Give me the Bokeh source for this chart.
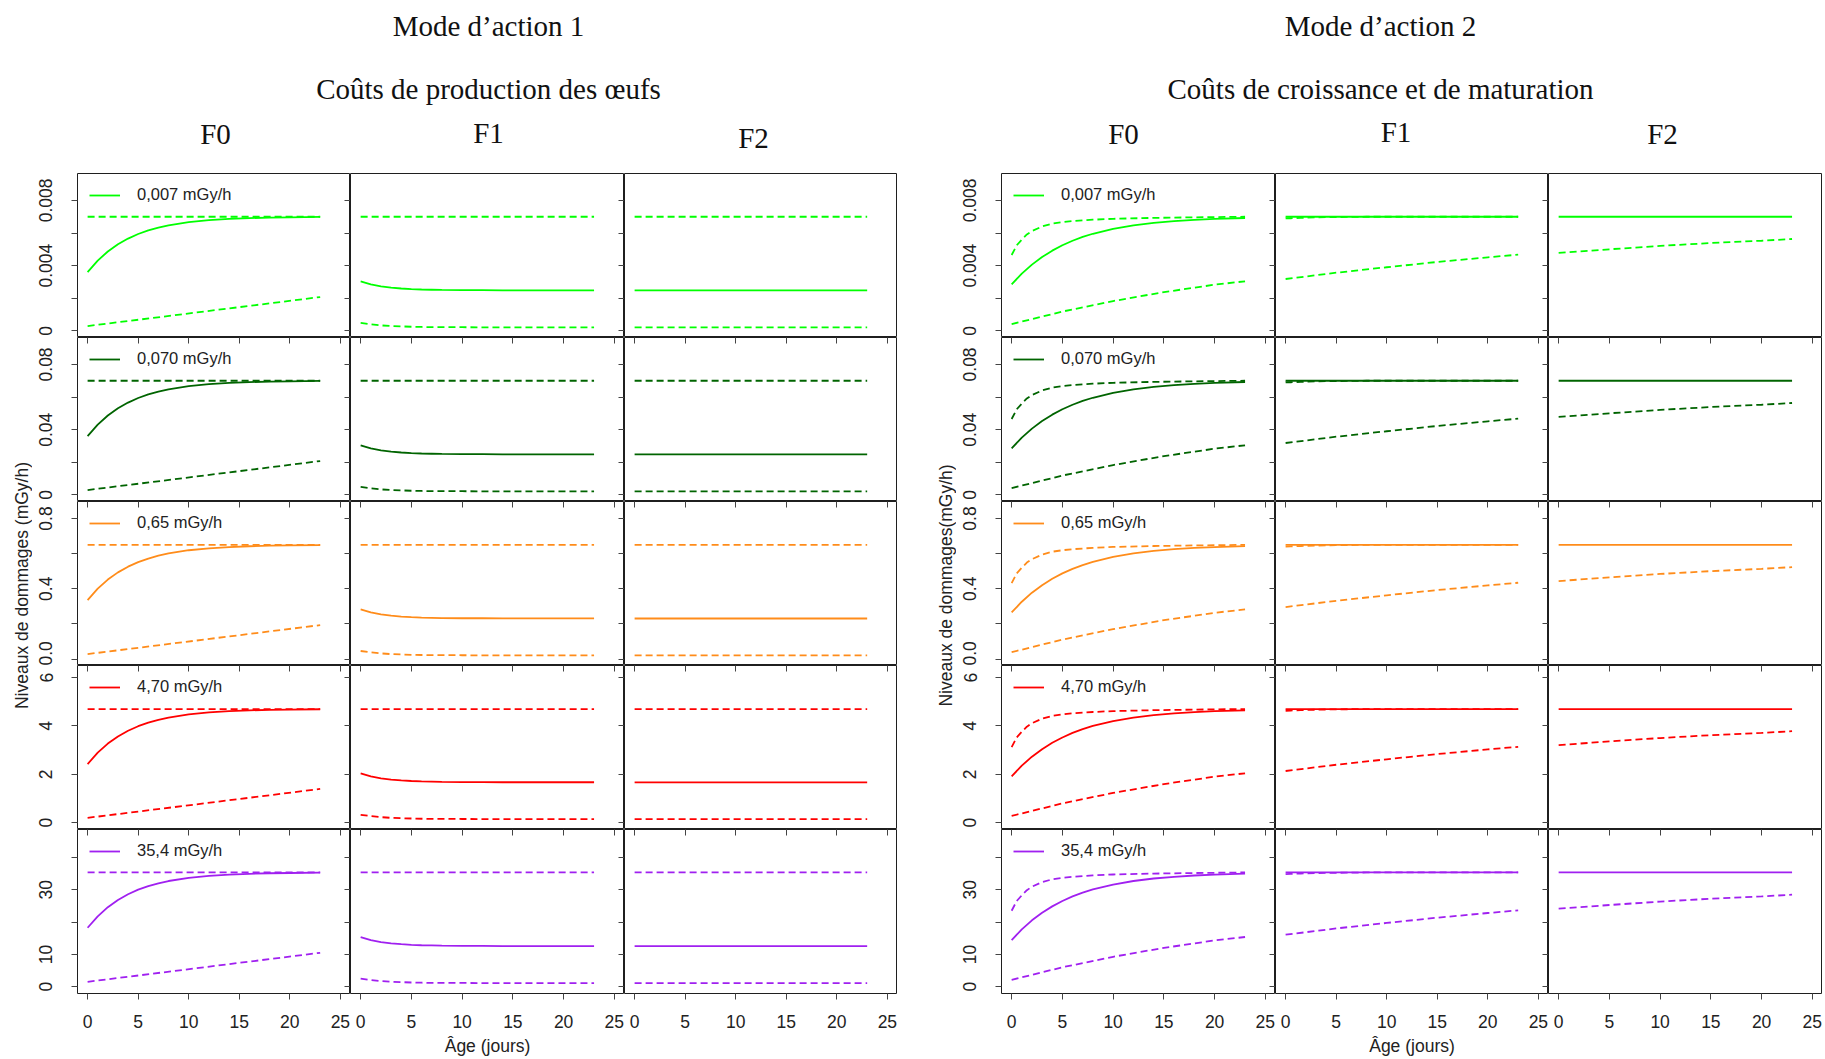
import math
from bokeh.plotting import figure
from bokeh.models import Range1d, FixedTicker, LinearAxis, Legend, LegendItem, Label, Spacer
from bokeh.layouts import row, column
from bokeh.embed import file_html
from bokeh.resources import INLINE

# ------------------------------------------------------------------ data
DOSE_RATES = [0.007, 0.070, 0.65, 4.70, 35.4]
DOSE_LABELS = ["0,007 mGy/h", "0,070 mGy/h", "0,65 mGy/h", "4,70 mGy/h", "35,4 mGy/h"]
MODE_TITLES = ["Mode d\u2019action 1", "Mode d\u2019action 2"]
MODE_SUBTITLES = ["Co\u00fbts de production des \u0153ufs", "Co\u00fbts de croissance et de maturation"]
GENERATIONS = ["F0", "F1", "F2"]
Y_TITLES = ["Niveaux de dommages (mGy/h)", "Niveaux de dommages(mGy/h)"]
X_TITLE = "\u00c2ge (jours)"

AGE_TICKS = [0, 5, 10, 15, 20, 25]
Y_TICKS = [
    [0, 0.002, 0.004, 0.006, 0.008],
    [0, 0.02, 0.04, 0.06, 0.08],
    [0, 0.2, 0.4, 0.6, 0.8],
    [0, 2, 4, 6],
    [0, 10, 20, 30, 40],
]
Y_TICK_LABELS = [
    ["0", "", "0.004", "", "0.008"],
    ["0", "", "0.04", "", "0.08"],
    ["0.0", "", "0.4", "", "0.8"],
    ["0", "2", "4", "6"],
    ["0", "10", "", "30", ""],
]
Y_LIMITS = [(-0.0004, 0.00965), (-0.004, 0.0965), (-0.037, 0.897), (-0.28, 6.5), (-2.1, 48.7)]
AGE_LIMITS = (-1, 26)

# ages (jours) at which the curves were read
AGE_CURVE = [0, 1, 2, 3, 4, 5, 6, 7, 8, 10, 12, 14, 16, 18, 20, 23]
AGE_FAST = [0, 0.5, 1, 1.5, 2, 3, 4, 5, 6, 8, 10, 14, 18, 23]
AGE_STEP = [0, 5, 10, 15, 20, 23]
AGE_ENDS = [0, 23]

# damage levels, as a fraction of the row's dose rate
M1_F0_SOLID = [0.516, 0.616, 0.696, 0.759, 0.809, 0.849, 0.880, 0.905, 0.925, 0.953, 0.970, 0.981, 0.988, 0.993, 0.995, 0.998]
M1_F0_DASH_HIGH = [1.0, 1.0]
M1_F0_DASH_LOW = [0.043, 0.297]
M1_F1_SOLID = [0.434, 0.408, 0.391, 0.380, 0.372, 0.367, 0.363, 0.361, 0.359, 0.357, 0.357, 0.356, 0.356, 0.356, 0.356, 0.356]
M1_F1_DASH_HIGH = [1.0, 1.0]
M1_F1_DASH_LOW = [0.070, 0.058, 0.049, 0.043, 0.040, 0.037, 0.035, 0.034, 0.034, 0.033, 0.032, 0.032, 0.032, 0.032, 0.032, 0.032]
M1_F2_SOLID = [0.355, 0.355]
M1_F2_DASH_HIGH = [1.0, 1.0]
M1_F2_DASH_LOW = [0.032, 0.032]

M2_F0_SOLID = [0.408, 0.502, 0.581, 0.647, 0.703, 0.750, 0.790, 0.823, 0.851, 0.894, 0.925, 0.947, 0.962, 0.973, 0.981, 0.989]
M2_F0_DASH_HIGH = [0.665, 0.750, 0.800, 0.845, 0.875, 0.915, 0.940, 0.953, 0.962, 0.974, 0.982, 0.990, 0.995, 1.0]
M2_F0_DASH_LOW = [0.060, 0.170, 0.262, 0.340, 0.405, 0.435]
M2_F1_SOLID = [1.0, 1.0]
M2_F1_DASH_HIGH = [0.985, 0.987, 0.989, 0.990, 0.992, 0.994, 0.996, 0.997, 0.998, 1.0, 1.0, 1.0, 1.0, 1.0]
M2_F1_DASH_LOW = [0.455, 0.510, 0.558, 0.604, 0.645, 0.668]
M2_F2_SOLID = [1.0, 1.0]
M2_F2_DASH_LOW = [0.683, 0.715, 0.745, 0.770, 0.790, 0.805]

PANEL_SERIES = [
    [
        [("solid", AGE_CURVE, M1_F0_SOLID), ("dashed", AGE_ENDS, M1_F0_DASH_HIGH), ("dashed", AGE_ENDS, M1_F0_DASH_LOW)],
        [("solid", AGE_CURVE, M1_F1_SOLID), ("dashed", AGE_ENDS, M1_F1_DASH_HIGH), ("dashed", AGE_CURVE, M1_F1_DASH_LOW)],
        [("solid", AGE_ENDS, M1_F2_SOLID), ("dashed", AGE_ENDS, M1_F2_DASH_HIGH), ("dashed", AGE_ENDS, M1_F2_DASH_LOW)],
    ],
    [
        [("solid", AGE_CURVE, M2_F0_SOLID), ("dashed", AGE_FAST, M2_F0_DASH_HIGH), ("dashed", AGE_STEP, M2_F0_DASH_LOW)],
        [("solid", AGE_ENDS, M2_F1_SOLID), ("dashed", AGE_FAST, M2_F1_DASH_HIGH), ("dashed", AGE_STEP, M2_F1_DASH_LOW)],
        [("solid", AGE_ENDS, M2_F2_SOLID), ("dashed", AGE_STEP, M2_F2_DASH_LOW)],
    ],
]

# ------------------------------------------------------------------ style
ROW_COLORS = ["#00FF00", "#006400", "#FF8C1A", "#FF0000", "#A020F0"]
FRAME_WIDTHS = [[273, 274, 273], [274, 273, 274]]
FRAME_H = 164
YLAB_W, LEFT_B, BOTTOM_B = 32, 45, 66
HEADER_H, GAP = 173, 27
SANS = "Liberation Sans"
SERIF = "Liberation Serif"
TICK_COLOR = "#444444"
TEXT_COLOR = "#222222"
OUTLINE = "#1f1f1f"
LINE_W = 1.8
DASH = "7 4"

HEADER_LABELS = [
    {"title_x": 488, "gen_x": [215, 488, 753], "gen_y": [39.2, 40.7, 35.7]},
    {"title_x": 456, "gen_x": [199, 471.5, 738], "gen_y": [39.2, 41.7, 39.2]},
]
TITLE_Y = [147.8, 84.8]
YLAB_X = [21, 21.5]


def blank_figure(w, h, **kw):
    p = figure(width=w, height=h, output_backend="svg", toolbar_location=None, tools="",
               x_axis_location=None, y_axis_location=None,
               background_fill_color="white", border_fill_color="white", **kw)
    p.grid.visible = False
    return p


def inner_axis(ticker):
    return LinearAxis(ticker=ticker, axis_line_color=None, major_tick_in=6, major_tick_out=0,
                      minor_tick_in=0, minor_tick_out=0, major_tick_line_color=TICK_COLOR,
                      major_label_text_font_size="0px", major_label_text_alpha=0.0,
                      major_label_standoff=0)


def make_panel(m, r, c):
    d = DOSE_RATES[r]
    color = ROW_COLORS[r]
    lb = LEFT_B if c == 0 else 0
    bb = BOTTOM_B if r == 4 else 0
    p = blank_figure(FRAME_WIDTHS[m][c] + lb, FRAME_H + bb,
                     x_range=Range1d(*AGE_LIMITS), y_range=Range1d(*Y_LIMITS[r]),
                     min_border_left=lb, min_border_right=0, min_border_top=0, min_border_bottom=bb,
                     outline_line_color=OUTLINE, outline_line_width=1)
    yt = FixedTicker(ticks=Y_TICKS[r])
    xt = FixedTicker(ticks=AGE_TICKS)
    if c == 0:
        ax = LinearAxis(ticker=yt, axis_line_color=None, major_tick_out=6, major_tick_in=0,
                        minor_tick_in=0, minor_tick_out=0, major_tick_line_color=TICK_COLOR,
                        major_label_overrides=dict(zip(Y_TICKS[r], Y_TICK_LABELS[r])),
                        major_label_orientation="vertical", major_label_standoff=19,
                        major_label_text_font=SANS, major_label_text_font_size="17.5px",
                        major_label_text_color=TEXT_COLOR)
        p.add_layout(ax, "left")
    if c < 2:
        p.add_layout(inner_axis(yt), "right")
    if r > 0:
        p.add_layout(inner_axis(xt), "above")
    if r == 4:
        bx = LinearAxis(ticker=xt, axis_line_color=None, major_tick_out=6, major_tick_in=0,
                        minor_tick_in=0, minor_tick_out=0, major_tick_line_color=TICK_COLOR,
                        major_label_standoff=15, major_label_text_font=SANS,
                        major_label_text_font_size="17.5px", major_label_text_color=TEXT_COLOR)
        if c == 1:
            bx.axis_label = X_TITLE
            bx.axis_label_standoff = 5
            bx.axis_label_text_font = SANS
            bx.axis_label_text_font_size = "17.5px"
            bx.axis_label_text_font_style = "normal"
            bx.axis_label_text_color = TEXT_COLOR
        p.add_layout(bx, "below")

    solid_r = None
    for kind, ages, levels in PANEL_SERIES[m][c]:
        ys = [v * d for v in levels]
        rr = p.line(ages, ys, line_color=color, line_width=LINE_W,
                    line_dash="solid" if kind == "solid" else DASH)
        if kind == "solid" and solid_r is None:
            solid_r = rr
    if c == 0:
        leg = Legend(items=[LegendItem(label=DOSE_LABELS[r], renderers=[solid_r])],
                     location="top_left", margin=12, padding=0, spacing=0,
                     glyph_width=31, glyph_height=14, label_height=14, label_standoff=17,
                     label_text_font=SANS, label_text_font_size="16.5px", label_text_color=TEXT_COLOR,
                     border_line_color=None, background_fill_color="white", background_fill_alpha=0.85)
        p.add_layout(leg)
    return p


def make_header(m):
    w = YLAB_W + LEFT_B + sum(FRAME_WIDTHS[m])
    h = HEADER_H
    p = blank_figure(w, h, x_range=Range1d(0, w), y_range=Range1d(0, h),
                     min_border_left=0, min_border_right=0, min_border_top=0, min_border_bottom=0,
                     outline_line_color=None)
    spec = HEADER_LABELS[m]
    common = dict(text_align="center", text_baseline="middle", text_font=SERIF,
                  text_font_size="29px", text_color="#111111")
    p.add_layout(Label(x=spec["title_x"], y=TITLE_Y[0], text=MODE_TITLES[m], **common))
    p.add_layout(Label(x=spec["title_x"], y=TITLE_Y[1], text=MODE_SUBTITLES[m], **common))
    for c in range(3):
        p.add_layout(Label(x=spec["gen_x"][c], y=spec["gen_y"][c], text=GENERATIONS[c], **common))
    return p


def make_ylab(m):
    h = 5 * FRAME_H + BOTTOM_B
    p = blank_figure(YLAB_W, h, x_range=Range1d(0, YLAB_W), y_range=Range1d(0, h),
                     min_border_left=0, min_border_right=0, min_border_top=0, min_border_bottom=0,
                     outline_line_color=None)
    p.add_layout(Label(x=YLAB_X[m], y=h - 412, text=Y_TITLES[m],
                       angle=math.pi / 2, text_align="center", text_baseline="middle",
                       text_font=SANS, text_font_size="17.5px", text_color=TEXT_COLOR))
    return p


blocks = []
for m in range(2):
    grid = column(*[row(*[make_panel(m, r, c) for c in range(3)]) for r in range(5)])
    blocks.append(column(make_header(m), row(make_ylab(m), grid)))

layout = row(blocks[0], Spacer(width=GAP, height=10), blocks[1])

open("out.html", "w").write(file_html(layout, INLINE))
